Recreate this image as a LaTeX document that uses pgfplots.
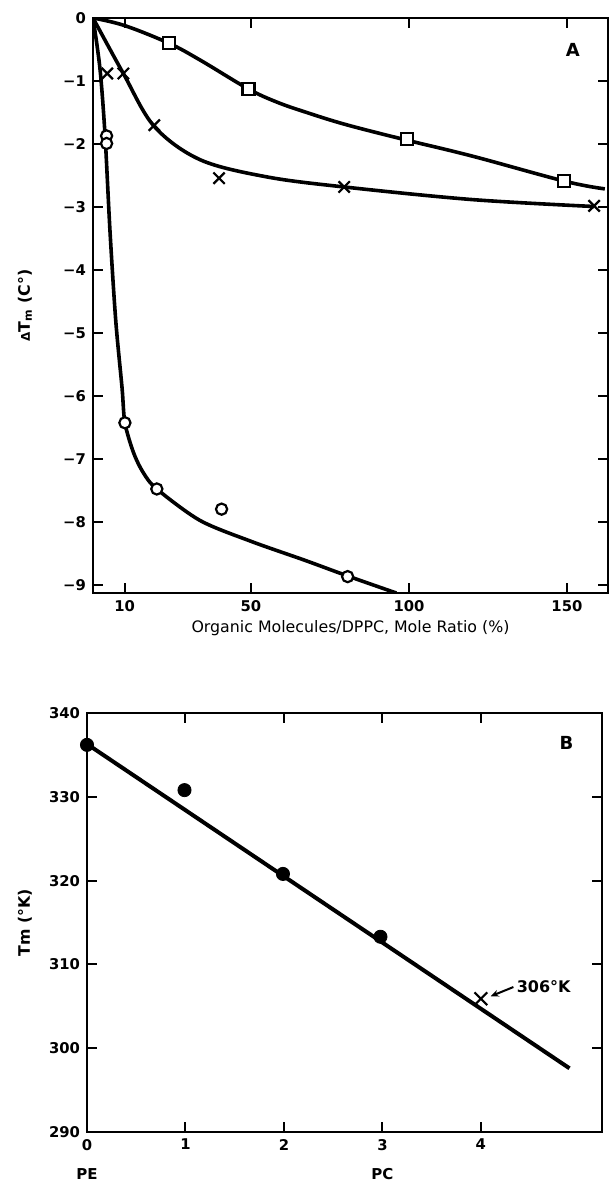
\documentclass[border=0pt]{standalone}
\usepackage{fontspec}
\setmainfont{DejaVu Sans}
\usepackage{pgfplots}
\pgfplotsset{compat=1.18}
\usetikzlibrary{arrows.meta}

\pgfplotsset{
  myax/.style={
    scale only axis,
    axis line style={line width=1.3pt},
    tick style={black, line width=1pt},
    major tick length=5pt,
    tick align=inside,
    tick label style={font=\fontsize{7.4}{9}\selectfont\bfseries},
    /pgf/number format/assume math mode=true,
  }
}

\begin{document}
\begin{tikzpicture}
\path[use as bounding box] (0pt,0pt) rectangle (305pt,-600pt);

% ---------------- Panel A ----------------
\begin{axis}[myax,
  at={(46.5pt,-296.5pt)}, anchor=south west,
  width=257.5pt, height=287.5pt,
  xmin=0, xmax=163, ymin=-9.12, ymax=0,
  xtick={10,50,100,150},
  ytick={0,-1,-2,-3,-4,-5,-6,-7,-8,-9},
  yticklabels={0,−1,−2,−3,−4,−5,−6,−7,−8,−9},
  xlabel={Organic Molecules/DPPC, Mole Ratio (\%)},
  every axis x label/.style={at={(axis description cs:0.5,0)}, anchor=north, yshift=-10pt, font=\fontsize{7.9}{9}\selectfont},
  ylabel={{\fontsize{6}{7}\selectfont Δ}T\textsubscript{m}\ (C°)},
  every axis y label/.style={at={(axis description cs:0,0.5)}, xshift=-34pt, rotate=90, anchor=center, font=\fontsize{7.9}{9}\selectfont\bfseries},
]
% squares curve
\addplot[line width=1.8pt, smooth, tension=0.6] coordinates {
  (0,0) (10,-0.12) (24,-0.40) (34,-0.67) (49,-1.12) (58,-1.33) (67.1,-1.49)
  (80,-1.69) (98.7,-1.93) (120,-2.19) (149.4,-2.59) (162,-2.71)
};
% crosses curve
\addplot[line width=1.8pt, smooth, tension=0.55] coordinates {
  (0,0) (9.6,-0.88) (19.4,-1.72) (34,-2.25) (55,-2.52) (79.5,-2.68)
  (120,-2.88) (158.6,-2.99)
};
% circles curve
\addplot[line width=1.8pt, smooth, tension=0.5] coordinates {
  (0,0) (2.2,-0.8) (3.8,-1.85) (5.4,-3.4) (7.2,-4.8) (9.2,-5.87)
  (10.1,-6.42) (12.8,-6.89) (15.9,-7.21) (20.2,-7.47) (33.9,-7.97)
  (50,-8.30) (67,-8.60) (80.6,-8.85) (96,-9.12)
};
% markers
\addplot[only marks, mark=square*, mark size=3pt,
  mark options={fill=white, draw=black, line width=1.1pt}] coordinates {
  (24,-0.40) (49.2,-1.13) (99.3,-1.92) (149.2,-2.59)
};
\addplot[only marks, mark=x, mark size=4pt,
  mark options={draw=black, line width=1.1pt}] coordinates {
  (4.5,-0.88) (9.6,-0.88) (19.4,-1.70) (39.9,-2.54) (79.5,-2.68) (158.6,-2.98)
};
\addplot[only marks, mark=*, mark size=2.8pt,
  mark options={fill=white, draw=black, line width=1.1pt}] coordinates {
  (4.3,-1.87) (4.3,-1.99) (10.1,-6.42) (20.2,-7.47) (40.7,-7.79) (80.6,-8.86)
};
\node[font=\fontsize{9}{10}\selectfont\bfseries] at (axis cs:151.9,-0.5) {A};
\end{axis}

% ---------------- Panel B ----------------
\begin{axis}[myax,
  at={(43.5pt,-566pt)}, anchor=south west,
  width=257.5pt, height=209.5pt,
  xmin=0, xmax=5.23, ymin=290, ymax=340,
  xtick={0,1,2,3,4},
  ytick={290,300,310,320,330,340},
  clip=false,
  ylabel={Tm (°K)},
  every axis y label/.style={at={(axis description cs:0,0.5)}, xshift=-31pt, rotate=90, anchor=center, font=\fontsize{7.9}{9}\selectfont\bfseries},
]
\addplot[line width=2pt] coordinates {(0,336.3) (4.9,297.6)};
\addplot[only marks, mark=*, mark size=3.3pt, mark options={fill=black, draw=black}] coordinates {
  (0,336.2) (0.99,330.8) (1.99,320.8) (2.98,313.3)
};
\addplot[only marks, mark=x, mark size=4.5pt, mark options={draw=black, line width=1.1pt}] coordinates {
  (4.0,305.9)
};
\draw[line width=1pt, -{Stealth[length=4pt,width=3.5pt]}] (axis cs:4.33,307.3) -- (axis cs:4.1,306.2);
\node[font=\fontsize{8}{9}\selectfont\bfseries, anchor=west, inner sep=1pt] at (axis cs:4.34,307.3) {306°K};
\node[font=\fontsize{9}{10}\selectfont\bfseries] at (axis cs:4.87,336.4) {B};
\node[font=\fontsize{7.5}{9}\selectfont\bfseries] at (axis cs:0,290) [yshift=-21pt] {PE};
\node[font=\fontsize{7.5}{9}\selectfont\bfseries] at (axis cs:3,290) [yshift=-21pt] {PC};
\end{axis}
\end{tikzpicture}
\end{document}
